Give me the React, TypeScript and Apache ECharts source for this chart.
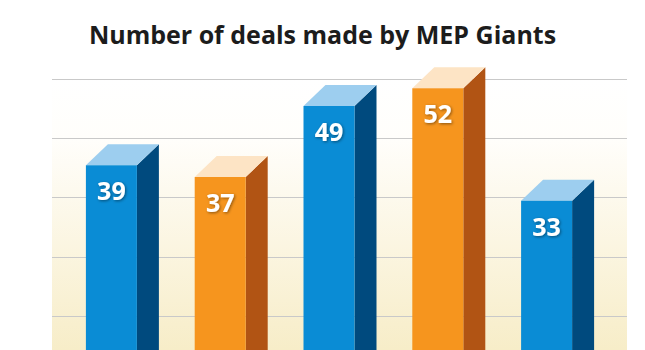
import React, { useEffect, useRef } from "react";
import * as echarts from "echarts";

const title = "Number of deals made by MEP Giants";
const categories = ["1", "2", "3", "4", "5"];
const deals = [39, 37, 49, 52, 33];
const yMin = 10;
const yMax = 50;
const yInterval = 10;
const baseValue = 0;

const palette = [
  { front: "#0a8cd5", side: "#004a7e", top: "#9dceef" },
  { front: "#f6951e", side: "#b15414", top: "#fde4c5" },
];

export default function App() {
  const ref = useRef<HTMLDivElement>(null);
  useEffect(() => {
    if (!ref.current) return;
    const chart = echarts.init(ref.current, null, { renderer: "svg" });
    const W = 51;
    const DX = 22;
    const DY = 21;
    chart.setOption({
      animation: false,
      title: {
        text: title,
        left: "center",
        top: 16,
        textStyle: {
          fontFamily: "Open Sans",
          fontWeight: "bold",
          fontSize: 25,
          color: "#1c1c1c",
        },
      },
      graphic: [
        {
          type: "rect",
          z: -100,
          shape: { x: 52, y: 79, width: 575, height: 271 },
          style: {
            fill: new echarts.graphic.LinearGradient(0, 0, 0, 1, [
              { offset: 0, color: "#ffffff" },
              { offset: 0.22, color: "#fffefb" },
              { offset: 1, color: "#f7edc8" },
            ]),
          },
        },
      ],
      grid: [
        { left: 52, width: 575, top: 79, height: 237 },
        { left: 57, width: 544, top: 79, height: 237 },
      ],
      xAxis: [
        { type: "value", gridIndex: 0, show: false, min: 0, max: 1 },
        { type: "category", gridIndex: 1, data: categories, show: false },
      ],
      yAxis: [
        {
          type: "value",
          gridIndex: 0,
          min: yMin,
          max: yMax,
          interval: yInterval,
          axisLabel: { show: false },
          axisLine: { show: false },
          axisTick: { show: false },
          splitLine: { lineStyle: { color: "#c9c9c9", width: 1 } },
        },
        {
          type: "value",
          gridIndex: 1,
          min: yMin,
          max: yMax,
          interval: yInterval,
          show: false,
          splitLine: { show: false },
        },
      ],
      series: [
        {
          type: "custom",
          xAxisIndex: 1,
          yAxisIndex: 1,
          clip: false,
          z: 5,
          data: deals.map((v, i) => [i, v]),
          renderItem: (params: any, api: any) => {
            const idx = api.value(0);
            const val = api.value(1);
            const backTop = api.coord([idx, val]);
            const base = api.coord([idx, baseValue]);
            const cx = backTop[0];
            const fy = backTop[1] + DY;
            const by = Math.max(base[1] + DY, 360);
            const x1 = cx - W / 2;
            const x2 = cx + W / 2;
            const c = palette[params.dataIndex % 2];
            return {
              type: "group",
              children: [
                {
                  type: "polygon",
                  shape: {
                    points: [
                      [x2, fy],
                      [x2 + DX, fy - DY],
                      [x2 + DX, by - DY],
                      [x2, by],
                    ],
                  },
                  style: { fill: c.side },
                },
                {
                  type: "polygon",
                  shape: {
                    points: [
                      [x1, fy],
                      [x1 + DX, fy - DY],
                      [x2 + DX, fy - DY],
                      [x2, fy],
                    ],
                  },
                  style: { fill: c.top },
                },
                {
                  type: "rect",
                  shape: { x: x1, y: fy, width: W, height: by - fy },
                  style: { fill: c.front },
                },
                {
                  type: "text",
                  x: cx,
                  y: fy + 25,
                  style: {
                    text: String(val),
                    fill: "#ffffff",
                    fontFamily: "Open Sans",
                    fontWeight: "bold",
                    fontSize: 25,
                    align: "center",
                    verticalAlign: "middle",
                    textShadowColor: "rgba(0,0,0,0.45)",
                    textShadowBlur: 3,
                    textShadowOffsetX: 1,
                    textShadowOffsetY: 1,
                  },
                },
              ],
            };
          },
        },
      ],
    });
    return () => chart.dispose();
  }, []);
  return (
    <div
      ref={ref}
      style={{ position: "fixed", left: 0, top: 0, width: 645, height: 350, background: "#ffffff" }}
    />
  );
}
